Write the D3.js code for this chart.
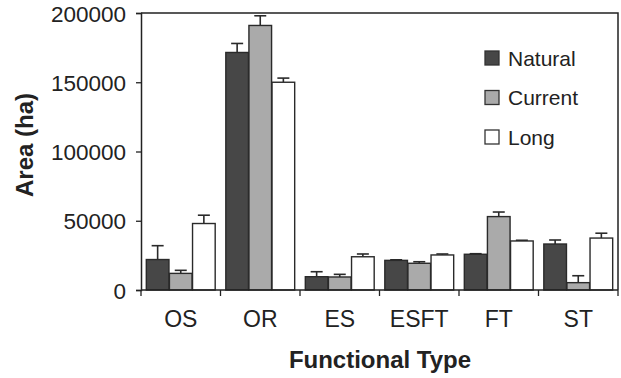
<!DOCTYPE html>
<html>
<head>
<meta charset="utf-8">
<script src="https://cdn.jsdelivr.net/npm/d3@7"></script>
<style>
  body { margin: 0; background: #fff; }
  svg { display: block; font-family: "Liberation Sans", Arial, sans-serif; }
</style>
</head>
<body>
<svg width="621" height="378"></svg>
<script>
// Area by functional type, three scenarios
const categories = ["OS", "OR", "ES", "ESFT", "FT", "ST"];
const seriesNames = ["Natural", "Current", "Long"];
const naturalVals = [22000, 171500, 9600, 21400, 25800, 33200];
const naturalErr  = [32000, 178000, 13200, 21800, 26200, 36100];
const currentVals = [12000, 191000, 9400, 19300, 53000, 5300];
const currentErr  = [14200, 198000, 11300, 20400, 56300, 10300];
const longVals    = [48000, 150000, 24000, 25300, 35400, 37500];
const longErr     = [54000, 153000, 26000, 26000, 35900, 41000];
const yTicks = [0, 50000, 100000, 150000, 200000];

const colors = ["#474747", "#aaaaaa", "#ffffff"];
const vals = [naturalVals, currentVals, longVals];
const errs = [naturalErr, currentErr, longErr];

const svg = d3.select("svg");
const margin = {left: 141, top: 13, right: 3, bottom: 88};
const width = 621, height = 378;

const x = d3.scaleBand()
    .domain(categories)
    .range([margin.left, width - margin.right])
    .paddingInner(0).paddingOuter(0);

const xs = d3.scaleBand()
    .domain(seriesNames)
    .range([0, x.bandwidth()])
    .paddingOuter(0.23).paddingInner(0.02);

const y = d3.scaleLinear()
    .domain([0, 200000])
    .range([height - margin.bottom, margin.top]);

const rows = [];
categories.forEach((c, i) => {
    seriesNames.forEach((s, j) => {
        rows.push({cat: c, series: s, j: j, v: vals[j][i], e: errs[j][i]});
    });
});

// error bars (drawn first so bar covers the stem)
const eg = svg.append("g").attr("stroke", "#2a2a2a").attr("stroke-width", 1.6);
rows.forEach(d => {
    const cx = x(d.cat) + xs(d.series) + xs.bandwidth() / 2;
    if (d.e > d.v) {
        eg.append("line").attr("x1", cx).attr("x2", cx)
            .attr("y1", y(d.v)).attr("y2", y(d.e));
    }
    eg.append("line").attr("x1", cx - 6).attr("x2", cx + 6)
        .attr("y1", y(d.e)).attr("y2", y(d.e));
});

// bars
svg.append("g")
    .selectAll("rect")
    .data(rows)
    .join("rect")
    .attr("x", d => x(d.cat) + xs(d.series))
    .attr("width", xs.bandwidth())
    .attr("y", d => y(d.v))
    .attr("height", d => y(0) - y(d.v))
    .attr("fill", d => colors[d.j])
    .attr("stroke", "#2a2a2a")
    .attr("stroke-width", 1.4);

// frame: top and right
svg.append("path")
    .attr("d", `M${margin.left},${margin.top}H${width - margin.right}V${y(0)}`)
    .attr("fill", "none")
    .attr("stroke", "#222")
    .attr("stroke-width", 1.5);

// y axis
const yAxis = svg.append("g")
    .attr("transform", `translate(${margin.left},0)`)
    .call(d3.axisLeft(y).tickValues(yTicks).tickSize(5).tickPadding(10).tickFormat(d3.format("d")));
yAxis.select(".domain").attr("stroke", "#222").attr("stroke-width", 1.5);
yAxis.selectAll(".tick line").attr("stroke", "#222").attr("stroke-width", 1.3);
yAxis.selectAll("text").attr("font-size", 22.5).attr("fill", "#222").attr("dy", "0.36em");

// x axis with ticks between categories
const xAxis = svg.append("g")
    .attr("transform", `translate(0,${y(0)})`);
xAxis.append("line")
    .attr("x1", margin.left).attr("x2", width - margin.right)
    .attr("stroke", "#222").attr("stroke-width", 1.5);
xAxis.selectAll("line.sep")
    .data(categories.concat(["end"]))
    .join("line")
    .attr("class", "sep")
    .attr("x1", (d, i) => i < categories.length ? x(d) : x(categories[categories.length - 1]) + x.bandwidth())
    .attr("x2", (d, i) => i < categories.length ? x(d) : x(categories[categories.length - 1]) + x.bandwidth())
    .attr("y1", 0).attr("y2", 6)
    .attr("stroke", "#222").attr("stroke-width", 1.3);
xAxis.selectAll("text")
    .data(categories)
    .join("text")
    .attr("x", d => x(d) + x.bandwidth() / 2)
    .attr("y", 37)
    .attr("text-anchor", "middle")
    .attr("font-size", 23)
    .attr("fill", "#222")
    .text(d => d);

// axis titles
svg.append("text")
    .attr("x", 380).attr("y", 368)
    .attr("text-anchor", "middle")
    .attr("font-size", 24).attr("font-weight", "bold").attr("fill", "#222")
    .text("Functional Type");

svg.append("text")
    .attr("transform", "translate(33,145) rotate(-90)")
    .attr("text-anchor", "middle")
    .attr("font-size", 24).attr("font-weight", "bold").attr("fill", "#222")
    .text("Area (ha)");

// legend
const legend = svg.append("g").attr("transform", "translate(485,51)");
seriesNames.forEach((s, i) => {
    const g = legend.append("g").attr("transform", `translate(0,${i * 39.5})`);
    g.append("rect").attr("width", 14).attr("height", 14)
        .attr("fill", colors[i]).attr("stroke", "#333").attr("stroke-width", 1.3);
    g.append("text").attr("x", 23).attr("y", 7).attr("dy", "0.36em")
        .attr("font-size", 21).attr("fill", "#222").text(s);
});
</script>
</body>
</html>
